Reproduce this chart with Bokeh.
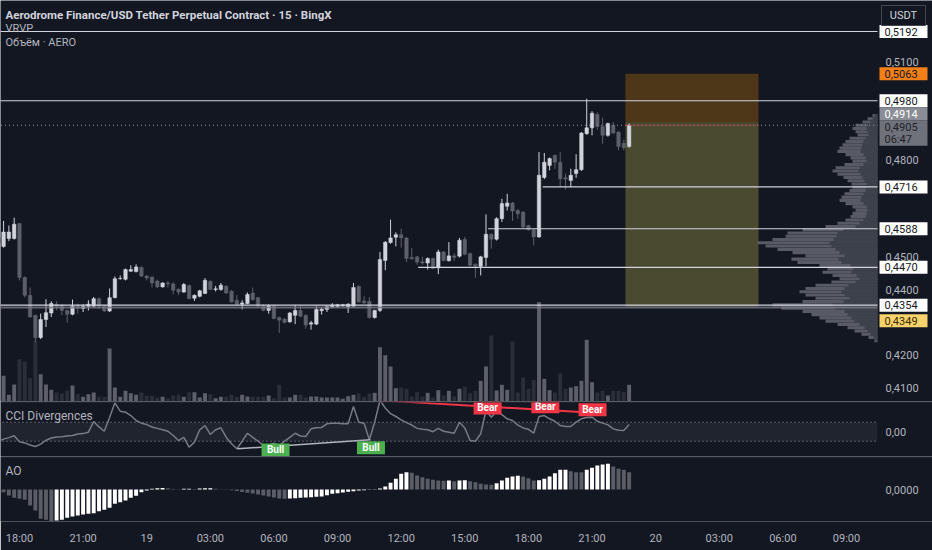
from bokeh.plotting import figure
from bokeh.models import (Range1d, FixedTicker, CustomJSTickFormatter, Label, Span,
                          BoxAnnotation, ColumnDataSource)
from bokeh.layouts import column
from bokeh.embed import file_html
from bokeh.resources import INLINE
from bokeh.core.properties import value

# ---------------- data ----------------
# bar index: 0 = 18:00 on the 18th, one bar = 15 minutes
bars = list(range(-4, 116))

opens = [
    0.4560, 0.4534, 0.4558, 0.4558, 0.4604, 0.4439, 0.4384, 0.4323, 0.4255, 0.4310,
    0.4330, 0.4357, 0.4354, 0.4338, 0.4326, 0.4354, 0.4344, 0.4350, 0.4351, 0.4374,
    0.4351, 0.4336, 0.4377, 0.4435, 0.4433, 0.4458, 0.4457, 0.4470, 0.4443, 0.4440,
    0.4428, 0.4410, 0.4422, 0.4419, 0.4403, 0.4394, 0.4414, 0.4375, 0.4381, 0.4390,
    0.4427, 0.4402, 0.4402, 0.4412, 0.4397, 0.4369, 0.4357, 0.4359, 0.4391, 0.4377,
    0.4351, 0.4338, 0.4352, 0.4316, 0.4311, 0.4303, 0.4323, 0.4338, 0.4323, 0.4296,
    0.4296, 0.4337, 0.4341, 0.4348, 0.4350, 0.4352, 0.4348, 0.4351, 0.4412, 0.4367,
    0.4366, 0.4316, 0.4338, 0.4491, 0.4546, 0.4562, 0.4570, 0.4560, 0.4500, 0.4502,
    0.4487, 0.4483, 0.4497, 0.4468, 0.4517, 0.4490, 0.4505, 0.4504, 0.4555, 0.4512,
    0.4479, 0.4473, 0.4500, 0.4571, 0.4556, 0.4619, 0.4657, 0.4667, 0.4644, 0.4639,
    0.4598, 0.4585, 0.4563, 0.4745, 0.4782, 0.4813, 0.4792, 0.4744, 0.4736, 0.4757,
    0.4769, 0.4879, 0.4897, 0.4938, 0.4901, 0.4874, 0.4905, 0.4884, 0.4850, 0.4840,
]
highs = [
    0.4563, 0.4612, 0.4598, 0.4622, 0.4606, 0.4442, 0.4408, 0.4325, 0.4328, 0.4372,
    0.4366, 0.4366, 0.4357, 0.4340, 0.4371, 0.4359, 0.4357, 0.4369, 0.4379, 0.4377,
    0.4354, 0.4405, 0.4442, 0.4445, 0.4466, 0.4476, 0.4479, 0.4472, 0.4446, 0.4442,
    0.4432, 0.4424, 0.4428, 0.4425, 0.4405, 0.4422, 0.4417, 0.4387, 0.4401, 0.4437,
    0.4430, 0.4413, 0.4422, 0.4415, 0.4400, 0.4385, 0.4369, 0.4393, 0.4408, 0.4380,
    0.4357, 0.4356, 0.4355, 0.4319, 0.4315, 0.4333, 0.4354, 0.4354, 0.4326, 0.4306,
    0.4351, 0.4346, 0.4353, 0.4360, 0.4358, 0.4358, 0.4360, 0.4422, 0.4414, 0.4381,
    0.4379, 0.4340, 0.4517, 0.4550, 0.4616, 0.4577, 0.4588, 0.4563, 0.4529, 0.4505,
    0.4502, 0.4500, 0.4500, 0.4524, 0.4520, 0.4547, 0.4513, 0.4560, 0.4563, 0.4515,
    0.4482, 0.4505, 0.4632, 0.4574, 0.4623, 0.4680, 0.4695, 0.4670, 0.4648, 0.4642,
    0.4600, 0.4588, 0.4823, 0.4820, 0.4806, 0.4815, 0.4823, 0.4757, 0.4772, 0.4816,
    0.4884, 0.4986, 0.4948, 0.4945, 0.4928, 0.4913, 0.4915, 0.4887, 0.4861, 0.4910,
]
lows = [
    0.4535, 0.4530, 0.4550, 0.4555, 0.4430, 0.4378, 0.4316, 0.4241, 0.4250, 0.4287,
    0.4318, 0.4338, 0.4323, 0.4300, 0.4323, 0.4328, 0.4333, 0.4338, 0.4348, 0.4342,
    0.4333, 0.4333, 0.4375, 0.4432, 0.4430, 0.4456, 0.4454, 0.4440, 0.4430, 0.4408,
    0.4406, 0.4408, 0.4408, 0.4387, 0.4385, 0.4392, 0.4372, 0.4367, 0.4378, 0.4388,
    0.4400, 0.4396, 0.4398, 0.4389, 0.4362, 0.4355, 0.4341, 0.4357, 0.4368, 0.4349,
    0.4335, 0.4328, 0.4311, 0.4269, 0.4298, 0.4300, 0.4296, 0.4317, 0.4282, 0.4279,
    0.4293, 0.4325, 0.4333, 0.4345, 0.4346, 0.4349, 0.4330, 0.4348, 0.4362, 0.4358,
    0.4313, 0.4313, 0.4333, 0.4461, 0.4542, 0.4534, 0.4530, 0.4486, 0.4494, 0.4478,
    0.4478, 0.4463, 0.4464, 0.4449, 0.4488, 0.4488, 0.4489, 0.4500, 0.4507, 0.4473,
    0.4438, 0.4445, 0.4473, 0.4527, 0.4552, 0.4609, 0.4644, 0.4612, 0.4619, 0.4590,
    0.4582, 0.4537, 0.4560, 0.4740, 0.4767, 0.4772, 0.4716, 0.4708, 0.4716, 0.4744,
    0.4765, 0.4876, 0.4874, 0.4891, 0.4848, 0.4870, 0.4878, 0.4828, 0.4828, 0.4836,
]
closes = [
    0.4545, 0.4578, 0.4578, 0.4602, 0.4439, 0.4384, 0.4318, 0.4254, 0.4310, 0.4331,
    0.4359, 0.4350, 0.4338, 0.4326, 0.4351, 0.4344, 0.4350, 0.4357, 0.4374, 0.4351,
    0.4336, 0.4377, 0.4435, 0.4436, 0.4463, 0.4463, 0.4471, 0.4443, 0.4437, 0.4422,
    0.4410, 0.4422, 0.4419, 0.4400, 0.4394, 0.4417, 0.4374, 0.4384, 0.4398, 0.4430,
    0.4402, 0.4404, 0.4415, 0.4391, 0.4364, 0.4357, 0.4361, 0.4387, 0.4371, 0.4351,
    0.4338, 0.4352, 0.4313, 0.4308, 0.4301, 0.4330, 0.4338, 0.4320, 0.4293, 0.4300,
    0.4341, 0.4342, 0.4350, 0.4354, 0.4355, 0.4355, 0.4357, 0.4408, 0.4364, 0.4361,
    0.4316, 0.4338, 0.4494, 0.4547, 0.4560, 0.4570, 0.4560, 0.4497, 0.4496, 0.4486,
    0.4483, 0.4497, 0.4466, 0.4517, 0.4491, 0.4505, 0.4500, 0.4553, 0.4510, 0.4476,
    0.4473, 0.4502, 0.4571, 0.4556, 0.4619, 0.4665, 0.4667, 0.4642, 0.4634, 0.4593,
    0.4585, 0.4563, 0.4752, 0.4792, 0.4803, 0.4792, 0.4741, 0.4740, 0.4752, 0.4769,
    0.4881, 0.4897, 0.4942, 0.4901, 0.4874, 0.4910, 0.4881, 0.4840, 0.4836, 0.4905,
]
# volume (thousand AERO)
volumes = [
    980, 257, 67, 170, 423, 400, 233, 607, 273, 170,
    117, 90, 80, 110, 160, 73, 47, 73, 90, 47,
    47, 530, 140, 47, 107, 83, 67, 90, 57, 57,
    40, 47, 33, 60, 67, 47, 93, 93, 40, 83,
    73, 33, 47, 47, 67, 47, 67, 50, 47, 47,
    47, 60, 33, 167, 40, 40, 67, 67, 40, 50,
    50, 40, 40, 40, 40, 27, 53, 67, 80, 47,
    80, 87, 543, 463, 350, 133, 140, 127, 50, 93,
    50, 87, 40, 113, 60, 107, 53, 127, 147, 83,
    107, 207, 350, 660, 110, 167, 117, 600, 90, 240,
    127, 217, 993, 227, 113, 90, 280, 127, 140, 153,
    207, 617, 193, 90, 107, 60, 107, 107, 93, 167,
]
cci = [
    -100, -78, -62, -42, -105, -118, -140, -156, -130, -90,
    -66, -55, -52, -45, -40, -25, -20, -5, 107, 50,
    5, 150, 304, 216, 205, 170, 118, 90, 75, 50,
    35, 20, 5, -40, -93, -60, -163, -110, 20, 65,
    -29, 20, 41, -60, -127, -180, -100, -16, -60, -100,
    -145, -140, -120, -145, -100, -60, -16, -45, -50, 30,
    41, 45, 83, 90, 88, 85, 85, 265, 100, 90,
    -85, 100, 330, 250, 190, 160, 125, 95, 70, 35,
    25, 20, 0, 35, 5, -5, -16, 100, 40, -93,
    -100, -22, 223, 153, 216, 180, 136, 118, 70, 40,
    25, -16, 160, 170, 136, 110, 65, 55, 55, 100,
    136, 150, 153, 110, 90, 72, 30, 15, 13, 76,
]
ao = [
    0.0007, -0.00054, -0.0012, -0.00166, -0.00186, -0.00206, -0.0032, -0.0042, -0.00586, -0.00606,
    -0.00634, -0.0062, -0.00606, -0.00566, -0.0054, -0.0052, -0.005, -0.00486, -0.00474, -0.00434,
    -0.00406, -0.00366, -0.00286, -0.00254, -0.0022, -0.00166, -0.00126, -0.00054, -0.0002, 0.00014,
    0.00026, 0.0003, 0.00024, 0.0001, 0.00006, 0.00014, 0.00016, 0.00012, 0.00018, 0.00024,
    0.00026, 0.00016, 0.00006, -0.00006, -0.00016, -0.0003, -0.0005, -0.00066, -0.0008, -0.001,
    -0.0012, -0.0014, -0.0016, -0.0018, -0.00186, -0.0018, -0.00174, -0.00166, -0.0016, -0.00154,
    -0.00146, -0.0014, -0.00114, -0.00086, -0.00074, -0.0006, -0.00046, -0.00034, -0.0002, -0.00014,
    -0.00006, 0.00004, 0.0002, 0.0006, 0.00134, 0.00214, 0.00314, 0.00346, 0.00334, 0.0028,
    0.00246, 0.00214, 0.00194, 0.0018, 0.00176, 0.0018, 0.00166, 0.0018, 0.00184, 0.00166,
    0.00146, 0.00114, 0.001, 0.00096, 0.00126, 0.0018, 0.00234, 0.0026, 0.00274, 0.0026,
    0.00226, 0.0018, 0.00184, 0.00214, 0.0026, 0.00326, 0.00394, 0.00396, 0.00366, 0.00346,
    0.00344, 0.00394, 0.00434, 0.0048, 0.005, 0.00514, 0.0046, 0.00414, 0.00394, 0.00346,
]

# visible-range volume profile (price rows, top to bottom)
vp_price = [
    0.4935, 0.4925, 0.4915, 0.4905, 0.4895, 0.4885, 0.4875, 0.4865, 0.4855, 0.4845,
    0.4835, 0.4825, 0.4815, 0.4805, 0.4795, 0.4785, 0.4775, 0.4765, 0.4755, 0.4745,
    0.4735, 0.4725, 0.4715, 0.4705, 0.4695, 0.4685, 0.4675, 0.4665, 0.4655, 0.4645,
    0.4635, 0.4625, 0.4615, 0.4605, 0.4595, 0.4585, 0.4575, 0.4565, 0.4555, 0.4545,
    0.4535, 0.4525, 0.4515, 0.4505, 0.4495, 0.4485, 0.4475, 0.4465, 0.4455, 0.4445,
    0.4435, 0.4425, 0.4415, 0.4405, 0.4395, 0.4385, 0.4375, 0.4365, 0.4355, 0.4345,
    0.4335, 0.4325, 0.4315, 0.4305, 0.4295, 0.4285, 0.4275, 0.4265, 0.4255, 0.4245,
]
vp_total = [
    5, 10, 15, 22, 25, 22, 20, 28, 32, 35,
    38, 40, 32, 27, 25, 33, 42, 45, 40, 34,
    30, 26, 25, 28, 33, 36, 38, 32, 25, 22,
    25, 27, 32, 40, 52, 75, 90, 92, 105, 120,
    112, 100, 85, 72, 86, 80, 58, 50, 55, 45,
    38, 46, 62, 72, 78, 72, 62, 75, 105, 96,
    75, 66, 58, 52, 40, 30, 23, 16, 9, 3,
]
vp_up = [
    3, 5, 7, 10, 11, 10, 9, 12, 14, 15,
    16, 17, 14, 12, 11, 14, 18, 19, 17, 15,
    13, 11, 11, 12, 14, 16, 17, 14, 11, 10,
    11, 12, 14, 18, 22, 34, 40, 41, 44, 48,
    46, 42, 38, 33, 39, 36, 27, 24, 26, 21,
    18, 22, 29, 33, 36, 33, 28, 34, 45, 42,
    33, 30, 26, 23, 18, 13, 10, 7, 4, 1,
]

# horizontal levels drawn on the chart (price, first bar)
level_price = [0.5192, 0.4980, 0.4716, 0.4588, 0.4470, 0.4354]
level_start = [-5, -5, 98.7, 88.4, 75.2, -5]
last_price = 0.4905

# short position tool
pos_entry, pos_stop, pos_target = 0.4914, 0.5063, 0.4349
pos_from, pos_to = 114.3, 139.4

# price scale (labels not hidden behind tags)
price_ticks = [0.41, 0.42, 0.44, 0.45, 0.48, 0.51]
tag_price = [0.5192, 0.5063, 0.4980, 0.4914, 0.4905, 0.4716, 0.4588, 0.4470, 0.4354, 0.4349]
tag_text = ["0,5192", "0,5063", "0,4980", "0,4914", "0,4905", "0,4716", "0,4588", "0,4470", "0,4354", "0,4349"]
tag_bg = ["#ffffff", "#f57f17", "#ffffff", "#8a8d95", "#6f727a", "#ffffff", "#ffffff", "#ffffff", "#ffffff", "#f9d26b"]
tag_fg = ["#131722", "#131722", "#131722", "#ffffff", "#1e2029", "#131722", "#131722", "#131722", "#131722", "#3a2a00"]
tag_shift_px = [0, 0, 0, 8.5, -1.5, 0, 0, 0, 0, -14]
countdown = "06:47"

# time axis
time_ticks = [0, 12, 24, 36, 48, 60, 72, 84, 96, 108, 120, 132, 144, 156]
time_labels = ["18:00", "21:00", "19", "03:00", "06:00", "09:00", "12:00", "15:00",
               "18:00", "21:00", "20", "03:00", "06:00", "09:00"]

# divergence marks on CCI
bull_line_x, bull_line_y = [41.1, 66.2], [-180, -85]
bear_line_x, bear_line_y = [68, 110.6], [330, 192]
bear_x, bear_y = [88.3, 99.2, 108.1], [250, 262, 232]
bull_x, bull_y = [48.3, 66.3], [-192, -170]

# ---------------- layout / styling ----------------
BG = "#131722"
FONT = "Roboto"
TXT = "#b2b5be"
W = 932            # page width (the page is drawn without margin)
SCALE_W = 55       # price-scale strip on the right
CHART_W = W - SCALE_W
MAIN_H, CCI_H, AO_H, XAX_H = 401, 55, 65, 29

bar_start, bar_end = -3.58, 161.85          # bars visible in the chart area
bar_per_px = (bar_end - bar_start) / CHART_W
xr = Range1d(bar_start, bar_end + SCALE_W * bar_per_px)
VP_FULL = 877                                # profile units across the chart area


def make_fig(h, yr, bottom=0, xaxis=False):
    f = figure(width=W, height=h, x_range=xr, y_range=yr, output_backend="svg",
               toolbar_location=None, background_fill_color=BG, border_fill_color=BG,
               outline_line_color=None, min_border_left=0, min_border_right=0,
               min_border_top=0, min_border_bottom=bottom, y_axis_location=None,
               x_axis_location="below" if xaxis else None)
    f.grid.grid_line_color = None
    f.extra_x_ranges = {"px": Range1d(0, W)}
    return f


def text_label(fig, x, y, text, size="11px", color=TXT, style="normal"):
    fig.add_layout(Label(x=x, y=y, x_units="screen", y_units="screen", text=text,
                         text_font=FONT, text_font_size=size, text_color=color,
                         text_font_style=style, text_baseline="middle", text_align="left"))


def scale_labels(fig, ticks, digits):
    fig.text(x=[CHART_W + 8] * len(ticks), y=ticks,
             text=[f"{t:.{digits}f}".replace(".", ",") for t in ticks], x_range_name="px",
             text_color=TXT, text_font=value(FONT), text_font_size=value("11px"),
             text_align="left", text_baseline="middle")


# ---------------- main pane ----------------
ymin, ymax = 0.4059, 0.5287
per_px = (ymax - ymin) / MAIN_H
p = make_fig(MAIN_H, Range1d(ymin, ymax))
p.extra_y_ranges = {"vol": Range1d(0, 4010)}
p.extra_x_ranges["vp"] = Range1d(VP_FULL, -SCALE_W * VP_FULL / CHART_W)

# position tool
p.quad(left=[pos_from], right=[pos_to], bottom=[pos_entry], top=[pos_stop],
       fill_color="#ff9800", fill_alpha=0.25, line_color=None)
p.quad(left=[pos_from], right=[pos_to], bottom=[pos_target], top=[pos_entry],
       fill_color="#f0e35a", fill_alpha=0.25, line_color=None)

up = [c >= o for o, c in zip(opens, closes)]
src = ColumnDataSource(dict(
    x=bars, o=opens, h=highs, l=lows, c=closes, v=volumes,
    top=[max(o, c) for o, c in zip(opens, closes)],
    bot=[min(o, c) for o, c in zip(opens, closes)],
    col=["#d1d4dc" if u else "#5d606b" for u in up],
    vcol=["#5d606b" if u else "#2a2e39" for u in up],
))
p.vbar(x="x", top="v", bottom=0, width=0.74, y_range_name="vol", fill_color="vcol",
       line_color=None, source=src)

# volume profile
p.hbar(y=vp_price, left=0, right=vp_total, height=0.00095, x_range_name="vp",
       fill_color="#6a6d78", fill_alpha=0.8, line_color=None)
p.hbar(y=vp_price, left=0, right=vp_up, height=0.00095, x_range_name="vp",
       fill_color="#3b3e48", fill_alpha=0.9, line_color=None)

# candles
p.segment(x0="x", y0="l", x1="x", y1="h", line_color="col", line_width=1, source=src)
p.vbar(x="x", top="top", bottom="bot", width=0.66, fill_color="col", line_color="col",
       line_width=0.5, source=src)

# levels
p.segment(x0=[-5], y0=[pos_target - 0.0002], x1=[bar_end], y1=[pos_target - 0.0002],
          line_color="#787b86", line_width=2, line_alpha=0.8)
p.segment(x0=level_start, y0=level_price, x1=[bar_end] * len(level_price), y1=level_price,
          line_color="#d1d4dc", line_width=1.2)
p.segment(x0=[-5], y0=[last_price], x1=[bar_end], y1=[last_price], line_color="#9598a1",
          line_width=1, line_dash="1 3")
p.segment(x0=[pos_from], y0=[last_price], x1=[pos_to], y1=[last_price], line_color="#f23645",
          line_width=1, line_alpha=0.8, line_dash="2 2")

# legend texts
text_label(p, 5, MAIN_H - 14, "Aerodrome Finance/USD Tether Perpetual Contract · 15 · BingX",
           size="11.5px", color="#d1d4dc", style="bold")
text_label(p, 5, MAIN_H - 28, "VRVP")
text_label(p, 5, MAIN_H - 42, "Объём · AERO")

# price scale and tags
scale_labels(p, price_ticks, 4)
tag_y = [pr + sh * per_px for pr, sh in zip(tag_price, tag_shift_px)]
cd_y = tag_y[tag_text.index("0,4905")] - 12.5 * per_px
tag_cx = CHART_W + 2 + 24
p.rect(x=[tag_cx] * len(tag_y), y=tag_y, width=48, height=13, height_units="screen",
       x_range_name="px", fill_color=tag_bg, line_color=None)
p.rect(x=[tag_cx], y=[cd_y], width=48, height=13, height_units="screen",
       x_range_name="px", fill_color="#6f727a", line_color=None)
p.text(x=[CHART_W + 7] * len(tag_y), y=tag_y, text=tag_text, x_range_name="px",
       text_color=tag_fg, text_font=value(FONT), text_font_size=value("11px"),
       text_align="left", text_baseline="middle")
p.text(x=[CHART_W + 7], y=[cd_y], text=[countdown], x_range_name="px",
       text_color="#1e2029", text_font=value(FONT), text_font_size=value("11px"),
       text_align="left", text_baseline="middle")
# currency button
btn_y = ymax - 15 * per_px
p.rect(x=[CHART_W + 26], y=[btn_y], width=44, height=20, height_units="screen",
       x_range_name="px", fill_color=BG, line_color="#434651", line_width=1)
p.text(x=[CHART_W + 26], y=[btn_y], text=["USDT"], x_range_name="px", text_color="#d1d4dc",
       text_font=value(FONT), text_font_size=value("11px"), text_align="center",
       text_baseline="middle")

# ---------------- CCI pane ----------------
cmin, cmax = -261, 318
c = make_fig(CCI_H, Range1d(cmin, cmax))
c.add_layout(BoxAnnotation(bottom=-100, top=100, left=bar_start - 5, right=bar_end,
                           fill_color="#787b86", fill_alpha=0.13, line_color=None))
c.segment(x0=[bar_start - 5] * 2, y0=[100, -100], x1=[bar_end] * 2, y1=[100, -100],
          line_color="#787b86", line_alpha=0.7, line_dash="2 2", line_width=1)
c.line(bars, cci, line_color="#787b86", line_width=1.5)
c.line(bull_line_x, bull_line_y, line_color="#b2b5be", line_width=1.5)
c.line(bear_line_x, bear_line_y, line_color="#f23645", line_width=2)
c.rect(x=bear_x, y=bear_y, width=28, height=13, width_units="screen", height_units="screen",
       fill_color="#f23645", line_color=None)
c.text(x=bear_x, y=bear_y, text=["Bear"] * len(bear_x), text_color="#ffffff",
       text_font=value(FONT), text_font_size=value("10px"), text_font_style="bold",
       text_align="center", text_baseline="middle")
c.rect(x=bull_x, y=bull_y, width=28, height=13, width_units="screen", height_units="screen",
       fill_color="#4caf50", line_color=None)
c.text(x=bull_x, y=bull_y, text=["Bull"] * len(bull_x), text_color="#ffffff",
       text_font=value(FONT), text_font_size=value("10px"), text_font_style="bold",
       text_align="center", text_baseline="middle")
c.add_layout(Span(location=cmax, dimension="width", line_color="#2a2e39", line_width=2))
text_label(c, 5, CCI_H - 14, "CCI Divergences", size="12px")
scale_labels(c, [0], 2)

# ---------------- AO pane ----------------
amin, amax = -0.0064, 0.0066
a = make_fig(AO_H + XAX_H, Range1d(amin, amax), bottom=XAX_H, xaxis=True)
ao_col = ["#5a5d66"] + ["#ffffff" if ao[i] >= ao[i - 1] else "#5a5d66" for i in range(1, len(ao))]
a.vbar(x=bars, top=ao, bottom=0, width=0.74, fill_color=ao_col, line_color=None)
a.add_layout(Span(location=amax, dimension="width", line_color="#2a2e39", line_width=2))
text_label(a, 5, AO_H - 14, "AO", size="12px")
scale_labels(a, [0], 4)

xa = a.xaxis[0]
xa.ticker = FixedTicker(ticks=time_ticks)
xa.formatter = CustomJSTickFormatter(args=dict(pos=time_ticks, txt=time_labels), code="""
const i = pos.indexOf(tick);
return i < 0 ? '' : txt[i];
""")
xa.axis_line_color = None
xa.major_tick_line_color = None
xa.minor_tick_line_color = None
xa.major_tick_out = 0
xa.major_tick_in = 0
xa.minor_tick_out = 0
xa.major_label_text_color = TXT
xa.major_label_text_font = FONT
xa.major_label_text_font_size = "11px"
xa.major_label_standoff = 10

layout = column(p, c, a)
open("out.html", "w").write(file_html(layout, INLINE, title="AERO/USDT"))
